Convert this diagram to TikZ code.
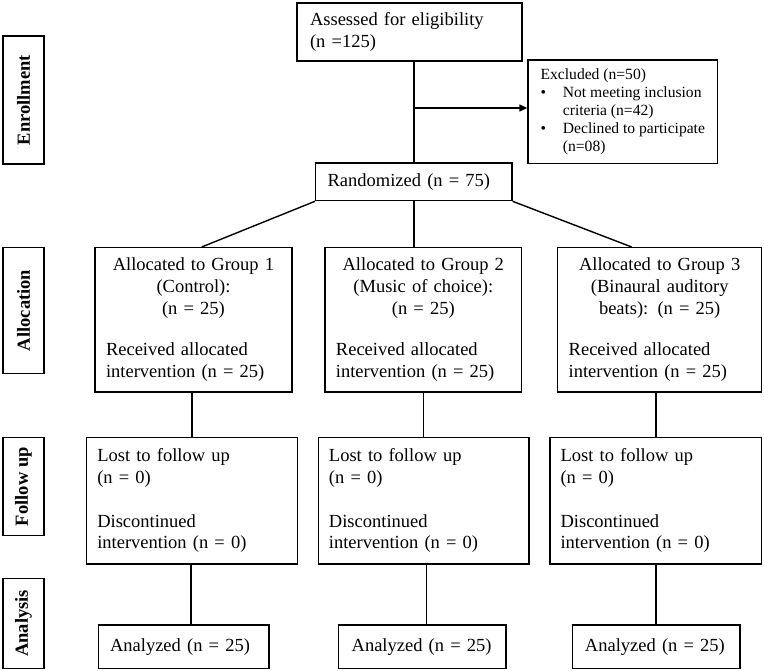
\documentclass[tikz,border=0pt]{standalone}
\usepackage{fontspec}
\setmainfont{Liberation Serif}
\usetikzlibrary{arrows.meta}
\begin{document}
\begin{tikzpicture}[x=1pt,y=-1pt,
  box/.style={draw, line width=1.3pt, inner ysep=0pt, inner xsep=11pt,
    font=\fontsize{18.5}{21.7}\selectfont},
  side/.style={draw, line width=1.3pt, inner sep=0pt, rotate=90,
    minimum height=41pt, font=\fontsize{18.5}{21.7}\selectfont\bfseries},
  conn/.style={line width=1.4pt},
  arr/.style={line width=1.4pt, -{Triangle[length=8pt,width=7pt]}}
]
\useasboundingbox (0,0) rectangle (764,671);

% side labels
\node[side, minimum width=128pt] (enr) at (23.5,100) {Enrollment};
\node[side, minimum width=125.6pt] (alc) at (23.5,310.5) {Allocation};
\node[side, minimum width=98pt] (fup) at (23.5,486.7) {Follow up};
\node[side, minimum width=90pt] (ana) at (23.5,623.3) {Analysis};

% enrollment
\node[box, minimum width=225pt, minimum height=58pt, text width=199pt, inner xsep=13pt]
  (assess) at (409.5,32) {Assessed for eligibility\\(n =125)};
\node[draw, line width=1.3pt, inner sep=0pt, minimum width=189.7pt, minimum height=103.7pt,
  align=left, font=\fontsize{15.6}{18}\selectfont]
  (excl) at (622.8,111.8) {Excluded (n=50)\\
  \makebox[22.3pt][l]{\textbullet}Not meeting inclusion\\
  \hspace*{22.3pt}criteria (n=42)\\
  \makebox[22.3pt][l]{\textbullet}Declined to participate\\
  \hspace*{22.3pt}(n=08)};
\node[box, minimum width=196.3pt, minimum height=37.7pt, text width=172.3pt, inner xsep=12pt]
  (rand) at (413.8,181.8) {Randomized (n = 75)};

% allocation
\node[box, minimum width=197pt, minimum height=144.3pt, text width=175pt]
  (g1) at (193.5,319.8) {\centering Allocated to Group 1\\(Control):\\(n = 25)\par\vspace{20pt}\raggedright Received allocated\\intervention (n = 25)};
\node[box, minimum width=196.7pt, minimum height=144.3pt, text width=174.7pt]
  (g2) at (423.3,319.8) {\centering Allocated to Group 2\\(Music of choice):\\(n = 25)\par\vspace{20pt}\raggedright Received allocated\\intervention (n = 25)};
\node[box, minimum width=204pt, minimum height=144.3pt, text width=182pt]
  (g3) at (659.7,319.8) {\centering Allocated to Group 3\\(Binaural auditory\\beats): (n = 25)\par\vspace{20pt}\raggedright Received allocated\\intervention (n = 25)};

% follow up
\node[box, minimum width=210.6pt, minimum height=126.3pt, text width=189.4pt, inner xsep=10.6pt]
  (f1) at (192,500.8) {Lost to follow up\\(n = 0)\\[21.7pt]Discontinued\\intervention (n = 0)};
\node[box, minimum width=210.7pt, minimum height=126.3pt, text width=189.5pt, inner xsep=10.6pt]
  (f2) at (423.7,500.8) {Lost to follow up\\(n = 0)\\[21.7pt]Discontinued\\intervention (n = 0)};
\node[box, minimum width=211.7pt, minimum height=126.3pt, text width=190.5pt, inner xsep=10.6pt]
  (f3) at (655.8,500.8) {Lost to follow up\\(n = 0)\\[21.7pt]Discontinued\\intervention (n = 0)};

% analysis
\node[box, minimum width=170.7pt, minimum height=43.3pt, text width=147.3pt, inner xsep=11.7pt] (a1) at (183.7,646.7) {Analyzed (n = 25)};
\node[box, minimum width=167.7pt, minimum height=43.3pt, text width=141.1pt, inner xsep=13.3pt] (a2) at (422.2,646.7) {Analyzed (n = 25)};
\node[box, minimum width=167.3pt, minimum height=43.3pt, text width=142.7pt, inner xsep=12.3pt] (a3) at (656.3,646.7) {Analyzed (n = 25)};

% connectors
\draw[conn] (rand.north |- assess.south) -- (rand.north);
\coordinate (j) at (rand.north |- 0,108);
\draw[arr] (j) -- (j -| excl.west);
\draw[conn] (rand.south west) -- ([xshift=8.2pt]g1.north);
\draw[conn] (rand.south) -- (rand.south |- g2.north);
\draw[conn] (rand.south east) -- ([xshift=-28pt]g3.north);
\draw[conn] (f1.north |- g1.south) -- (f1.north);
\draw[conn] (f2.north |- g2.south) -- (f2.north);
\draw[conn] (f3.north |- g3.south) -- (f3.north);
\draw[conn] ([xshift=-1pt]f1.south) -- ([xshift=-1pt]f1.south |- a1.north);
\draw[conn] ([xshift=3pt]f2.south) -- ([xshift=3pt]f2.south |- a2.north);
\draw[conn] (f3.south) -- (f3.south |- a3.north);
\end{tikzpicture}
\end{document}
